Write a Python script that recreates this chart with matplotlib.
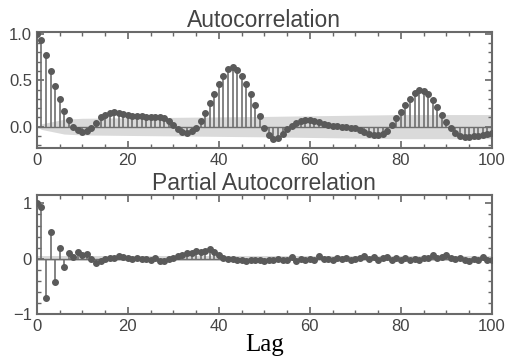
import matplotlib
matplotlib.use("Agg")
import matplotlib.pyplot as plt
from matplotlib.ticker import MultipleLocator
import numpy as np

# autocorrelation, lags 0..100
acf_vals = [1.0, 0.93, 0.77, 0.60, 0.44, 0.30, 0.17, 0.07, 0.0, -0.04,
            -0.06, -0.05, -0.02, 0.04, 0.10, 0.13, 0.15, 0.155, 0.15, 0.14,
            0.13, 0.12, 0.115, 0.11, 0.10, 0.10, 0.10, 0.10, 0.09, 0.06,
            0.02, -0.03, -0.06, -0.065, -0.05, -0.01, 0.06, 0.15, 0.25, 0.35,
            0.46, 0.55, 0.62, 0.64, 0.61, 0.55, 0.46, 0.35, 0.23, 0.11,
            -0.02, -0.09, -0.13, -0.12, -0.08, -0.03, 0.01, 0.04, 0.06, 0.07,
            0.07, 0.06, 0.045, 0.03, 0.02, 0.01, 0.005, 0.0, -0.005, -0.01,
            -0.02, -0.04, -0.06, -0.08, -0.09, -0.09, -0.08, -0.05, 0.02, 0.09,
            0.16, 0.23, 0.30, 0.36, 0.39, 0.38, 0.35, 0.29, 0.21, 0.13,
            0.05, -0.02, -0.07, -0.10, -0.11, -0.11, -0.10, -0.10, -0.09, -0.08,
            -0.07]

# partial autocorrelation, lags 0..100
pacf_vals = [1.0, 0.93, -0.72, 0.49, -0.42, 0.19, -0.15, 0.11, 0.03, 0.12,
             0.07, 0.08, 0.0, -0.07, -0.05, -0.01, 0.02, 0.01, 0.04, 0.03,
             0.02, 0.0, 0.01, -0.01, 0.0, -0.03, 0.01, -0.04, -0.05, -0.01,
             0.02, 0.04, 0.06, 0.10, 0.11, 0.14, 0.12, 0.13, 0.17, 0.12,
             0.07, 0.02, 0.0, -0.01, -0.02, -0.03, -0.05, -0.02, -0.03, -0.02,
             -0.04, -0.02, -0.03, -0.01, -0.03, -0.02, 0.03, -0.05, -0.01, -0.02,
             0.0, -0.03, 0.04, -0.01, 0.0, -0.02, 0.02, -0.01, 0.01, -0.02,
             0.0, 0.01, 0.04, 0.0, 0.03, -0.03, 0.02, 0.03, -0.03, 0.01,
             -0.02, 0.02, -0.03, 0.0, -0.02, 0.01, 0.02, 0.06, 0.01, 0.03,
             0.06, 0.02, 0.0, 0.01, -0.02, -0.04, 0.0, -0.02, 0.03, -0.02,
             -0.02]

# confidence band half-widths
band_lags = [0, 1, 3, 6, 10, 30, 50, 80, 100]
acf_band = [0.0, 0.03, 0.05, 0.08, 0.09, 0.10, 0.11, 0.13, 0.13]
pacf_band = 0.05

lags = np.arange(len(acf_vals))

stem_col = "#6e6e6e"
mark_col = "#5a5a5a"
text_col = "#444444"
plt.rcParams['font.family'] = ['Liberation Sans', 'DejaVu Sans']

fig = plt.figure(figsize=(5.05, 3.6), dpi=100)
ax1 = fig.add_axes([0.073, 0.589, 0.901, 0.322])
ax2 = fig.add_axes([0.073, 0.128, 0.901, 0.330])


def style(ax):
    ax.set_xlim(0, 100)
    ax.xaxis.set_major_locator(MultipleLocator(20))
    ax.xaxis.set_minor_locator(MultipleLocator(5))
    ax.tick_params(which='both', direction='in', top=True, right=True,
                   colors='#666666', labelcolor=text_col, labelsize=12)
    ax.tick_params(which='major', length=5, width=1.2)
    ax.tick_params(which='minor', length=3, width=1.0)
    for s in ax.spines.values():
        s.set_color('#6a6a6a')
        s.set_linewidth(1.5)


# ACF
bl = np.array(band_lags)
bh = np.array(acf_band)
ax1.fill_between(bl, -bh, bh, color='#dadada', lw=0, zorder=1)
ax1.axhline(0, color=stem_col, lw=1.0, zorder=2)
ax1.vlines(lags, 0, acf_vals, color=stem_col, lw=1.2, zorder=2)
ax1.plot(lags, acf_vals, 'o', color=mark_col, ms=4, zorder=3)
ax1.set_ylim(-0.23, 1.02)
ax1.yaxis.set_major_locator(MultipleLocator(0.5))
ax1.yaxis.set_minor_locator(MultipleLocator(0.1))
style(ax1)
ax1.set_title("Autocorrelation", fontsize=16.5, color=text_col, pad=3)

# PACF
ax2.fill_between([0, 100], -pacf_band, pacf_band, color='#dadada', lw=0, zorder=1)
ax2.axhline(0, color=stem_col, lw=1.0, zorder=2)
ax2.vlines(lags, 0, pacf_vals, color=stem_col, lw=1.2, zorder=2)
ax2.plot(lags, pacf_vals, 'o', color=mark_col, ms=4, zorder=3)
ax2.set_ylim(-1, 1.15)
ax2.yaxis.set_major_locator(MultipleLocator(1))
ax2.yaxis.set_minor_locator(MultipleLocator(0.2))
style(ax2)
ax2.set_title("Partial Autocorrelation", fontsize=16.5, color=text_col, pad=3)
ax2.set_xlabel("Lag", fontsize=18, family=['Liberation Serif', 'DejaVu Serif'],
               color='black', labelpad=0)

fig.savefig("out.png", dpi=100)
